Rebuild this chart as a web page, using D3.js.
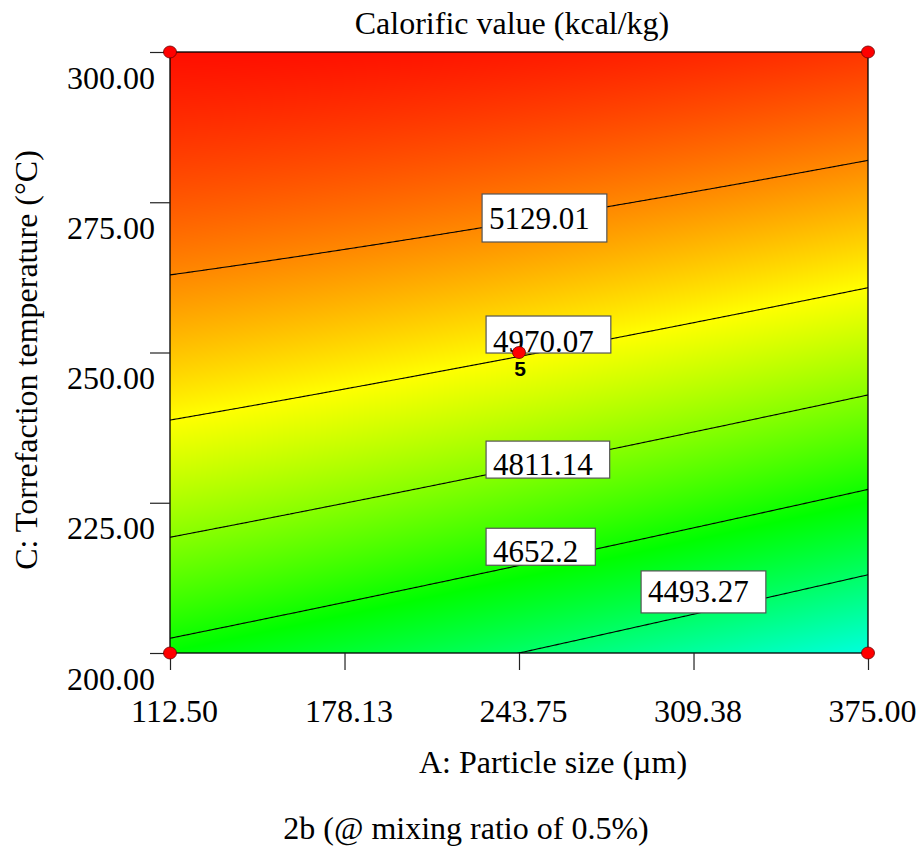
<!DOCTYPE html>
<html>
<head>
<meta charset="utf-8">
<script src="https://cdn.jsdelivr.net/npm/d3@7"></script>
<style>
  html, body { margin: 0; padding: 0; background: #fff; }
  svg { display: block; }
  text { font-family: "Liberation Serif", "Times New Roman", serif; fill: #000; }
</style>
</head>
<body>
<svg id="chart" width="920" height="863"></svg>
<script>
// ---------------- data ----------------
const A_TICKS = [112.5, 178.13, 243.75, 309.38, 375];
const A_LABELS = ["112.50", "178.13", "243.75", "309.38", "375.00"];
const C_TICKS = [200, 225, 250, 275, 300];
const C_LABELS = ["200.00", "225.00", "250.00", "275.00", "300.00"];
// response (kcal/kg) at the tick lattice: rows C = 200..300, columns A = 112.5..375
const Z_GRID = [
  [4627.3, 4563.4, 4493.3, 4417.1, 4334.8],
  [4860.8, 4811.9, 4756.8, 4695.6, 4628.3],
  [5049.3, 5015.4, 4975.3, 4929.1, 4876.8],
  [5192.8, 5173.9, 5148.8, 5117.6, 5080.3],
  [5291.3, 5287.4, 5277.3, 5261.1, 5238.8]
];
const LEVELS = [4493.27, 4652.2, 4811.14, 4970.07, 5129.01];
const LEVEL_LABELS = ["4493.27", "4652.2", "4811.14", "4970.07", "5129.01"];
const LABEL_A = [292.3, 234.0, 234.0, 234.0, 232.5];   // label text start (A units)
const LABEL_C = [208.5, 215.1, 229.6, 250.08, 270.55]; // label baseline (C units)
const COLOR_VALUES = [4290, 4630, 4970, 5310];
const COLOR_RANGE = ["#00ffff", "#00ff00", "#ffff00", "#ff0000"];
const DESIGN_A = [112.5, 375, 112.5, 375, 243.75];
const DESIGN_C = [200, 200, 300, 300, 250];
const DESIGN_N = ["", "", "", "", "5"];

// ---------------- layout ----------------
const svg = d3.select("#chart");
const X0 = 170, X1 = 868, Y0 = 52, Y1 = 653;
const x = d3.scaleLinear().domain([112.5, 375]).range([X0, X1]);
const y = d3.scaleLinear().domain([200, 300]).range([Y1, Y0]);
const color = d3.scaleLinear().domain(COLOR_VALUES).range(COLOR_RANGE).clamp(true);
const BOX_BOTTOM = [11, 3, 3, 1, 13];  // label box padding below baseline (px)
const BOX_TOP = [31, 34, 34, 36, 35];  // label box extent above baseline (px)

// smooth interpolation of the lattice (Catmull-Rom with quadratic end extension)
function extend(arr) {
  const n = arr.length;
  return [3 * arr[0] - 3 * arr[1] + arr[2], ...arr, 3 * arr[n - 1] - 3 * arr[n - 2] + arr[n - 3]];
}
const rowsExt = Z_GRID.map(extend);
const E = [];
for (let j = 0; j < rowsExt.length + 2; j++) E.push([]);
for (let i = 0; i < rowsExt[0].length; i++) {
  const col = extend(rowsExt.map(r => r[i]));
  col.forEach((v, j) => { E[j][i] = v; });
}
function cr(p0, p1, p2, p3, t) {
  return 0.5 * (2 * p1 + (-p0 + p2) * t + (2 * p0 - 5 * p1 + 4 * p2 - p3) * t * t + (-p0 + 3 * p1 - 3 * p2 + p3) * t * t * t);
}
const uScale = d3.scaleLinear().domain([A_TICKS[0], A_TICKS[4]]).range([0, 4]);
const vScale = d3.scaleLinear().domain([C_TICKS[0], C_TICKS[4]]).range([0, 4]);
function zAt(A, C) {
  const u = uScale(A), v = vScale(C);
  const i = Math.max(0, Math.min(3, Math.floor(u))), t = u - i;
  const j = Math.max(0, Math.min(3, Math.floor(v))), s = v - j;
  const r = [];
  for (let k = 0; k < 4; k++) {
    const row = E[j + k];
    r.push(cr(row[i], row[i + 1], row[i + 2], row[i + 3], t));
  }
  return cr(r[0], r[1], r[2], r[3], s);
}

// ---------------- colour surface ----------------
const W = X1 - X0, H = Y1 - Y0;
const canvas = document.createElement("canvas");
canvas.width = W; canvas.height = H;
const ctx = canvas.getContext("2d");
const img = ctx.createImageData(W, H);
for (let py = 0; py < H; py++) {
  const C = y.invert(Y0 + py + 0.5);
  for (let px = 0; px < W; px++) {
    const A = x.invert(X0 + px + 0.5);
    const c = d3.rgb(color(zAt(A, C)));
    const o = (py * W + px) * 4;
    img.data[o] = c.r; img.data[o + 1] = c.g; img.data[o + 2] = c.b; img.data[o + 3] = 255;
  }
}
ctx.putImageData(img, 0, 0);
svg.append("image")
  .attr("x", X0).attr("y", Y0).attr("width", W).attr("height", H)
  .attr("preserveAspectRatio", "none")
  .attr("href", canvas.toDataURL());

// ---------------- contour lines ----------------
svg.append("clipPath").attr("id", "plotClip")
  .append("rect").attr("x", X0).attr("y", Y0).attr("width", W).attr("height", H);
const PAD = 20, STEP = 2;
const nx = Math.round((W + 2 * PAD) / STEP) + 1;
const ny = Math.round((H + 2 * PAD) / STEP) + 1;
const values = new Float64Array(nx * ny);
for (let j = 0; j < ny; j++) {
  const C = y.invert(Y0 - PAD + j * STEP);
  for (let i = 0; i < nx; i++) {
    values[j * nx + i] = zAt(x.invert(X0 - PAD + i * STEP), C);
  }
}
const contours = d3.contours().size([nx, ny]).thresholds(LEVELS)(values);
const proj = d3.geoTransform({
  point: function (gx, gy) {
    this.stream.point(X0 - PAD + (gx - 0.5) * STEP, Y0 - PAD + (gy - 0.5) * STEP);
  }
});
const path = d3.geoPath(proj);
svg.append("g").attr("clip-path", "url(#plotClip)")
  .selectAll("path").data(contours).join("path")
  .attr("d", path)
  .attr("fill", "none")
  .attr("stroke", "#000")
  .attr("stroke-width", 1.1);

// ---------------- frame & axes ----------------
const FONT = 32;
svg.append("rect").attr("x", X0).attr("y", Y0).attr("width", W).attr("height", H)
  .attr("fill", "none").attr("stroke", "#000").attr("stroke-width", 1.3);

const gx = svg.append("g").attr("transform", `translate(0,${Y1})`)
  .call(d3.axisBottom(x).tickValues(A_TICKS).tickSize(17).tickFormat((d, i) => A_LABELS[i]));
gx.select(".domain").remove();
gx.selectAll("line").attr("stroke", "#222").attr("stroke-width", 1.2);
gx.selectAll("text").attr("y", 69).attr("dy", null).attr("x", 4)
  .style("font-size", FONT + "px").style("font-family", "'Liberation Serif', serif").attr("fill", "#000");

const gy = svg.append("g").attr("transform", `translate(${X0},0)`)
  .call(d3.axisLeft(y).tickValues(C_TICKS).tickSize(20).tickFormat((d, i) => C_LABELS[i]));
gy.select(".domain").remove();
gy.selectAll("line").attr("stroke", "#222").attr("stroke-width", 1.2);
gy.selectAll("text").attr("x", -15).attr("y", 36).attr("dy", null)
  .style("font-size", FONT + "px").style("font-family", "'Liberation Serif', serif").attr("fill", "#000");

// ---------------- contour labels ----------------
const lab = svg.append("g");
LEVEL_LABELS.forEach((t, i) => {
  const tx = x(LABEL_A[i]), ty = y(LABEL_C[i]);
  const g = lab.append("g");
  const rect = g.append("rect");
  const txt = g.append("text").attr("x", tx).attr("y", ty)
    .style("font-size", "31px").text(t);
  const w = txt.node().getComputedTextLength();
  rect.attr("x", tx - 7).attr("y", ty - BOX_TOP[i]).attr("width", w + 24)
    .attr("height", BOX_TOP[i] + BOX_BOTTOM[i])
    .attr("fill", "#fff").attr("stroke", "#555").attr("stroke-width", 1.2);
});

// ---------------- design points ----------------
DESIGN_A.forEach((a, i) => {
  svg.append("ellipse").attr("cx", x(a)).attr("cy", y(DESIGN_C[i]))
    .attr("rx", 6.5).attr("ry", 6).attr("fill", "#ff0000")
    .attr("stroke", "#6a0000").attr("stroke-width", 0.8);
  if (DESIGN_N[i]) {
    svg.append("text").attr("x", x(a) + 1).attr("y", y(DESIGN_C[i]) + 23)
      .attr("text-anchor", "middle")
      .style("font-family", "'Liberation Sans', Arial, sans-serif")
      .style("font-weight", "bold").style("font-size", "21px")
      .text(DESIGN_N[i]);
  }
});

// ---------------- titles ----------------
svg.append("text").attr("x", 512).attr("y", 34).attr("text-anchor", "middle")
  .style("font-size", FONT + "px").text("Calorific value (kcal/kg)");
svg.append("text").attr("transform", "translate(37,360) rotate(-90)").attr("text-anchor", "middle")
  .style("font-size", FONT + "px").text("C: Torrefaction temperature (°C)");
svg.append("text").attr("x", 553).attr("y", 773).attr("text-anchor", "middle")
  .style("font-size", FONT + "px").text("A: Particle size (µm)");
svg.append("text").attr("x", 466).attr("y", 839).attr("text-anchor", "middle")
  .style("font-size", FONT + "px").text("2b (@ mixing ratio of 0.5%)");
</script>
</body>
</html>
